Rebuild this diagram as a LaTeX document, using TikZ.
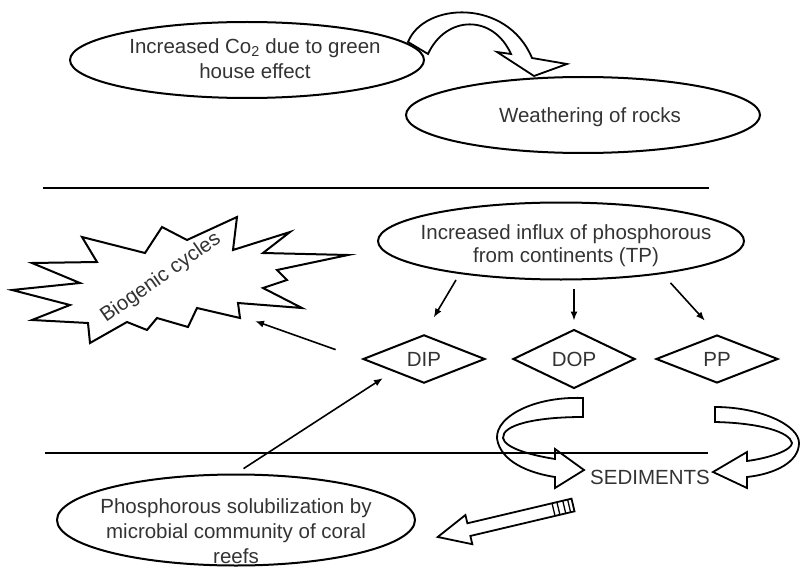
\documentclass[tikz,border=0pt]{standalone}
\usepackage{fontspec}
\setmainfont{Liberation Sans}
\usetikzlibrary{shapes.geometric,positioning,arrows.meta}

\tikzset{
	oval/.style={draw, ellipse, line width=2pt, inner sep=0pt},
	lbl/.style={align=center, font=\fontsize{20.5}{25}\selectfont, text=black!80, inner sep=0pt},
	pbox/.style={draw, diamond, line width=2pt, minimum width=122pt, minimum height=48pt, inner sep=0pt, font=\fontsize{20.5}{24}\selectfont, text=black!80},
	arr/.style={-{Latex[length=9pt,width=7pt]}, line width=1.6pt},
	blockarr/.style={draw, line width=1.8pt, line join=miter},
	sep/.style={line width=2.2pt}
}

\begin{document}
\begin{tikzpicture}[x=1pt, y=-1pt]
	\useasboundingbox (0,0) rectangle (800,567);

	\node[oval, minimum width=354pt, minimum height=76pt] (co2) at (247,60) {};
	\node[lbl] (co2txt) at (255,59) {Increased Co\textsubscript{2} due to green\\house effect};
	\node[oval, minimum width=354pt, minimum height=76pt] (rock) at (583,115) {};
	\node[lbl] (rocktxt) at (590,117) {Weathering of rocks};

	\draw[blockarr, fill=white] (408,42) .. controls (424,2) and (507,-2) .. (532,58) -- (567,64) -- (534,76) -- (497,52) -- (511,54)
		.. controls (493,14) and (446,15) .. (428,54) -- cycle;

	\draw[sep] (43,188) -- (709,188);

	% biogenic burst
	\draw[line width=2pt, line join=miter, fill=white] (12,290) -- (80,283) -- (32,263) -- (97,262) -- (82,237) -- (145,253)
		-- (162,227) -- (187,240) -- (237,217) -- (233,250) -- (290,232) -- (263,253) -- (348,255) -- (277,270)
		-- (287,280) -- (263,288) -- (302,308) -- (238,303) -- (240,318) -- (197,308) -- (188,327) -- (157,318)
		-- (147,330) -- (127,322) -- (90,343) -- (88,323) -- (32,320) -- (70,305) -- cycle;
	\node[lbl, rotate=35] (bio) at (161,278) {Biogenic cycles};
	\coordinate (bioin) at (255,321);

	\node[oval, minimum width=366pt, minimum height=77pt] (tp) at (561,241) {};
	\node[lbl, font=\fontsize{20.5}{23}\selectfont] (tptxt) at (566,246) {Increased influx of phosphorous\\from continents (TP)};

	\node[pbox] (dip) at (424,359) {DIP};
	\node[pbox, right=26pt of dip] (dop) {DOP};
	\node[pbox, right=19pt of dop] (pp) {PP};

	\draw[arr, shorten <=7pt, shorten >=19pt] (tp.198) -- (dip.north);
	\draw[arr, shorten <=8pt, shorten >=8pt] (tp.south -| dop.north) -- (dop.north);
	\draw[arr, shorten <=12pt, shorten >=18pt] (tp.342) -- (pp.north);
	\draw[arr, shorten <=28pt] (dip.west) -- (bioin);

	\draw[sep] (45,453) -- (708,453);

	\node[oval, minimum width=358pt, minimum height=91pt] (reef) at (236,520) {};
	\node[lbl] (reeftxt) at (236,531) {Phosphorous solubilization by\\microbial community of coral\\reefs};
	\draw[arr, shorten <=9pt, shorten >=12pt] (reef.north) -- (dip.south west);

	\node[lbl] (sed) at (650,477) {SEDIMENTS};

	\draw[blockarr] (583,398) .. controls (530,396) and (490,420) .. (498,443) .. controls (505,465) and (535,474) .. (555,477)
		-- (555,488) -- (584,470) -- (555,449) -- (555,459) .. controls (530,455) and (505,448) .. (503,438)
		.. controls (502,425) and (535,417) .. (583,417) -- cycle;
	\draw[blockarr] (715,407) .. controls (760,407) and (799,425) .. (799,443) .. controls (799,462) and (775,474) .. (747,477)
		-- (747,488) -- (713,472) -- (747,452) -- (747,461) .. controls (770,458) and (792,450) .. (792,443)
		.. controls (790,432) and (760,423) .. (715,422) -- cycle;

	\begin{scope}[shift={(573,505)}, rotate=13.3]
		\draw[blockarr, fill=white] (0,-6.5) -- (-107,-6.5) -- (-107,-15) -- (-139,0) -- (-107,15) -- (-107,6.5) -- (0,6.5) -- cycle;
		\foreach \s in {4,9,15,20}
			\draw[line width=1.3pt] (-\s,-6.5) -- (-\s,6.5);
	\end{scope}
\end{tikzpicture}
\end{document}
